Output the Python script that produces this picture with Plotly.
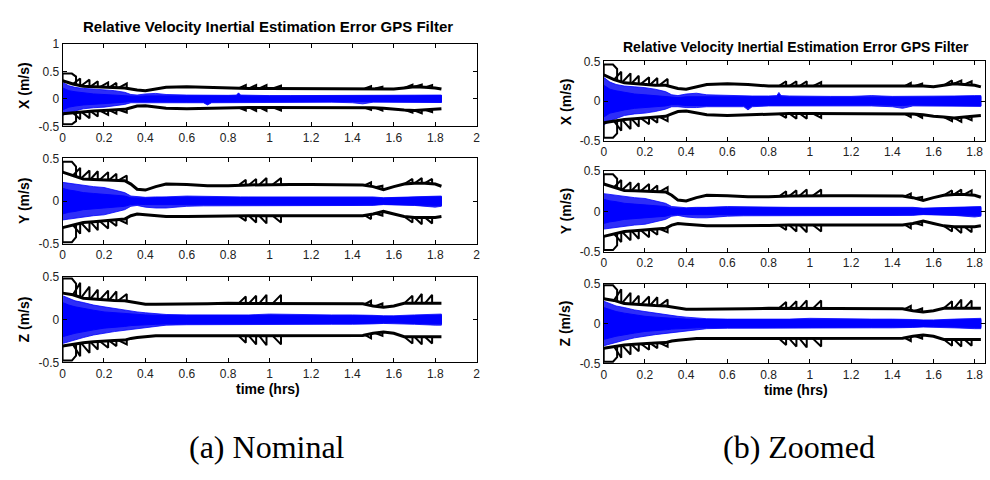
import numpy as np
import plotly.graph_objects as go

# ---------------- data ----------------
COMPONENTS = ["X", "Y", "Z"]
TITLE = "Relative Velocity Inertial Estimation Error GPS Filter"
XLABEL = "time (hrs)"
CAPTIONS = ["(a) Nominal", "(b) Zoomed"]

# 3-sigma (black) bounds
T_SIG = [0, 0.05, 0.1, 0.15, 0.2, 0.25, 0.3, 0.33, 0.36, 0.4, 0.45, 0.5, 0.6, 0.7, 0.8,
         0.9, 1.0, 1.1, 1.2, 1.3, 1.4, 1.45, 1.5, 1.55, 1.6, 1.65, 1.7, 1.75, 1.8, 1.83]
SIG_HI_X = [0.33, 0.27, 0.23, 0.22, 0.21, 0.2, 0.2, 0.18, 0.16, 0.15, 0.18, 0.21, 0.22, 0.21, 0.19,
            0.19, 0.19, 0.19, 0.19, 0.19, 0.19, 0.19, 0.19, 0.19, 0.18, 0.2, 0.22, 0.21, 0.2, 0.18]
SIG_LO_X = [-0.27, -0.25, -0.23, -0.22, -0.21, -0.2, -0.19, -0.16, -0.13, -0.125, -0.145, -0.17, -0.18, -0.17, -0.16,
            -0.155, -0.155, -0.155, -0.155, -0.155, -0.155, -0.16, -0.16, -0.17, -0.19, -0.2, -0.21, -0.2, -0.19, -0.18]
SIG_HI_Y = [0.34, 0.3, 0.26, 0.255, 0.25, 0.245, 0.24, 0.2, 0.14, 0.13, 0.17, 0.2, 0.195, 0.18, 0.18,
            0.19, 0.195, 0.195, 0.195, 0.195, 0.195, 0.19, 0.17, 0.135, 0.17, 0.2, 0.21, 0.21, 0.2, 0.175]
SIG_LO_Y = [-0.31, -0.28, -0.25, -0.24, -0.23, -0.22, -0.21, -0.17, -0.15, -0.16, -0.17, -0.18, -0.18, -0.18, -0.175,
            -0.17, -0.17, -0.17, -0.17, -0.17, -0.17, -0.17, -0.15, -0.12, -0.15, -0.18, -0.19, -0.19, -0.19, -0.18]
SIG_HI_Z = [0.31, 0.29, 0.25, 0.24, 0.23, 0.225, 0.22, 0.21, 0.2, 0.18, 0.18, 0.18, 0.18, 0.185, 0.19,
            0.19, 0.19, 0.19, 0.19, 0.19, 0.19, 0.185, 0.16, 0.145, 0.16, 0.19, 0.19, 0.19, 0.19, 0.19]
SIG_LO_Z = [-0.31, -0.29, -0.27, -0.26, -0.25, -0.245, -0.24, -0.22, -0.21, -0.2, -0.19, -0.19, -0.19, -0.19, -0.19,
            -0.19, -0.19, -0.19, -0.19, -0.19, -0.19, -0.185, -0.16, -0.145, -0.16, -0.2, -0.2, -0.2, -0.2, -0.2]

# initial "box" of the bounds (ends at BOX_T1) and saw-tooth spikes (rise from t0, drop at t1)
BOX_T1 = 0.065
BOX_HI = {"X": 0.46, "Y": 0.46, "Z": 0.48}
BOX_LO = {"X": -0.46, "Y": -0.48, "Z": -0.48}
SPK_T0 = [0.05, 0.09, 0.135, 0.18, 0.225, 0.27, 0.85, 0.9, 0.95, 1.015, 1.46, 1.51, 1.65, 1.7, 1.75]
SPK_T1 = [0.085, 0.13, 0.17, 0.22, 0.26, 0.31, 0.885, 0.935, 0.985, 1.055, 1.49, 1.545, 1.69, 1.735, 1.785]
SPK_HI_X = [0.37, 0.35, 0.32, 0.3, 0.29, 0.28, 0.25, 0.25, 0.25, 0.24, 0.23, 0.22, 0.26, 0.26, 0.25]
SPK_LO_X = [-0.37, -0.35, -0.32, -0.29, -0.27, -0.25, -0.21, -0.22, -0.22, -0.21, -0.2, -0.21, -0.25, -0.26, -0.24]
SPK_HI_Y = [0.39, 0.36, 0.35, 0.34, 0.32, 0.3, 0.25, 0.26, 0.27, 0.27, 0.22, 0.18, 0.26, 0.27, 0.26]
SPK_LO_Y = [-0.38, -0.36, -0.34, -0.32, -0.29, -0.26, -0.23, -0.25, -0.26, -0.25, -0.21, -0.17, -0.25, -0.27, -0.26]
SPK_HI_Z = [0.43, 0.385, 0.35, 0.34, 0.33, 0.3, 0.27, 0.28, 0.29, 0.29, 0.22, 0.19, 0.28, 0.3, 0.29]
SPK_LO_Z = [-0.43, -0.39, -0.35, -0.33, -0.31, -0.29, -0.27, -0.29, -0.3, -0.29, -0.22, -0.19, -0.28, -0.29, -0.28]

# Monte-Carlo error spread (blue): outer envelope and dense core
T_BAND = [0, 0.03, 0.06, 0.1, 0.15, 0.2, 0.25, 0.3, 0.33, 0.36, 0.4, 0.45, 0.5, 0.6, 0.68, 0.7, 0.72,
          0.8, 0.84, 0.85, 0.86, 0.9, 1.0, 1.1, 1.2, 1.3, 1.4, 1.45, 1.5, 1.55, 1.6, 1.7, 1.8, 1.83]
OUT_HI_X = [0.3, 0.24, 0.21, 0.19, 0.18, 0.17, 0.15, 0.12, 0.08, 0.07, 0.09, 0.1, 0.08, 0.07, 0.065, 0.065, 0.065,
            0.065, 0.07, 0.11, 0.07, 0.065, 0.06, 0.06, 0.06, 0.07, 0.06, 0.06, 0.06, 0.06, 0.06, 0.065, 0.07, 0.07]
OUT_LO_X = [-0.3, -0.25, -0.22, -0.18, -0.16, -0.15, -0.13, -0.1, -0.07, -0.07, -0.08, -0.08, -0.07, -0.07, -0.07, -0.11, -0.07,
            -0.06, -0.06, -0.06, -0.06, -0.06, -0.06, -0.06, -0.06, -0.06, -0.07, -0.09, -0.06, -0.06, -0.06, -0.06, -0.065, -0.065]
CORE_HI_X = [0.2, 0.15, 0.13, 0.11, 0.09, 0.08, 0.07, 0.06, 0.045, 0.045, 0.055, 0.055, 0.055, 0.055, 0.05, 0.05, 0.05,
             0.05, 0.055, 0.09, 0.055, 0.05, 0.05, 0.045, 0.045, 0.045, 0.045, 0.045, 0.045, 0.045, 0.05, 0.055, 0.06, 0.06]
CORE_LO_X = [-0.2, -0.15, -0.13, -0.11, -0.09, -0.08, -0.07, -0.06, -0.045, -0.045, -0.055, -0.055, -0.055, -0.055, -0.055, -0.09, -0.055,
             -0.05, -0.05, -0.05, -0.05, -0.05, -0.05, -0.045, -0.045, -0.045, -0.05, -0.055, -0.045, -0.045, -0.05, -0.055, -0.06, -0.06]
OUT_HI_Y = [0.22, 0.21, 0.2, 0.18, 0.17, 0.16, 0.13, 0.1, 0.06, 0.05, 0.045, 0.05, 0.05, 0.06, 0.055, 0.055, 0.055,
            0.05, 0.05, 0.05, 0.05, 0.05, 0.05, 0.05, 0.05, 0.05, 0.05, 0.05, 0.05, 0.04, 0.045, 0.05, 0.06, 0.06]
OUT_LO_Y = [-0.22, -0.21, -0.2, -0.19, -0.17, -0.16, -0.13, -0.1, -0.06, -0.05, -0.07, -0.08, -0.08, -0.06, -0.055, -0.055, -0.055,
            -0.05, -0.05, -0.05, -0.05, -0.05, -0.05, -0.05, -0.05, -0.05, -0.05, -0.05, -0.05, -0.04, -0.045, -0.05, -0.07, -0.06]
CORE_HI_Y = [0.15, 0.13, 0.12, 0.1, 0.09, 0.08, 0.07, 0.06, 0.04, 0.035, 0.035, 0.04, 0.045, 0.045, 0.045, 0.045, 0.045,
             0.045, 0.045, 0.045, 0.045, 0.045, 0.045, 0.045, 0.045, 0.045, 0.045, 0.045, 0.04, 0.035, 0.04, 0.045, 0.05, 0.05]
CORE_LO_Y = [-0.15, -0.13, -0.12, -0.1, -0.09, -0.08, -0.07, -0.06, -0.04, -0.035, -0.04, -0.045, -0.045, -0.045, -0.045, -0.045, -0.045,
             -0.045, -0.045, -0.045, -0.045, -0.045, -0.045, -0.045, -0.045, -0.045, -0.045, -0.045, -0.04, -0.035, -0.04, -0.045, -0.05, -0.05]
OUT_HI_Z = [0.28, 0.25, 0.22, 0.2, 0.17, 0.15, 0.13, 0.11, 0.1, 0.09, 0.08, 0.07, 0.06, 0.055, 0.055, 0.055, 0.055,
            0.055, 0.055, 0.055, 0.055, 0.055, 0.065, 0.06, 0.055, 0.055, 0.055, 0.055, 0.05, 0.045, 0.045, 0.055, 0.065, 0.065]
OUT_LO_Z = [-0.28, -0.26, -0.24, -0.21, -0.18, -0.16, -0.14, -0.12, -0.11, -0.1, -0.09, -0.08, -0.065, -0.06, -0.055, -0.055, -0.055,
            -0.055, -0.055, -0.055, -0.055, -0.055, -0.055, -0.055, -0.055, -0.055, -0.055, -0.055, -0.05, -0.045, -0.045, -0.055, -0.065, -0.065]
CORE_HI_Z = [0.2, 0.17, 0.15, 0.13, 0.11, 0.09, 0.08, 0.07, 0.065, 0.06, 0.055, 0.05, 0.05, 0.045, 0.045, 0.045, 0.045,
             0.045, 0.045, 0.045, 0.045, 0.045, 0.05, 0.045, 0.045, 0.045, 0.045, 0.045, 0.04, 0.035, 0.035, 0.045, 0.05, 0.05]
CORE_LO_Z = [-0.2, -0.18, -0.16, -0.14, -0.12, -0.1, -0.09, -0.08, -0.07, -0.065, -0.06, -0.055, -0.05, -0.045, -0.045, -0.045, -0.045,
             -0.045, -0.045, -0.045, -0.045, -0.045, -0.045, -0.045, -0.045, -0.045, -0.045, -0.045, -0.04, -0.035, -0.035, -0.045, -0.05, -0.05]

XTICKS_A = [0, 0.2, 0.4, 0.6, 0.8, 1, 1.2, 1.4, 1.6, 1.8, 2]
XTICKS_B = [0, 0.2, 0.4, 0.6, 0.8, 1, 1.2, 1.4, 1.6, 1.8]
YTICKS_A_X = [-0.5, 0, 0.5, 1]
YTICKS = [-0.5, 0, 0.5]

DATA = {
    "X": dict(hi=SIG_HI_X, lo=SIG_LO_X, shi=SPK_HI_X, slo=SPK_LO_X,
              ohi=OUT_HI_X, olo=OUT_LO_X, chi=CORE_HI_X, clo=CORE_LO_X),
    "Y": dict(hi=SIG_HI_Y, lo=SIG_LO_Y, shi=SPK_HI_Y, slo=SPK_LO_Y,
              ohi=OUT_HI_Y, olo=OUT_LO_Y, chi=CORE_HI_Y, clo=CORE_LO_Y),
    "Z": dict(hi=SIG_HI_Z, lo=SIG_LO_Z, shi=SPK_HI_Z, slo=SPK_LO_Z,
              ohi=OUT_HI_Z, olo=OUT_LO_Z, chi=CORE_HI_Z, clo=CORE_LO_Z),
}

# ---------------- layout geometry (pixels) ----------------
W, H = 990, 480
SANS = "Liberation Sans, Arial, sans-serif"
PANELS = [
    dict(x0=60, x1=477, rows=[(38, 123), (156, 244), (278, 366)], xr=[0, 2], xt=XTICKS_A,
         title_xy=(267, 20), title_size=15, ylab_x=21, xlab_xy=(267, 393), cap_xy=(266, 453)),
    dict(x0=605, x1=989, rows=[(56, 138), (169, 252), (285, 367)], xr=[0, 1.85], xt=XTICKS_B,
         title_xy=(799, 41), title_size=14, ylab_x=567, xlab_xy=(799, 394), cap_xy=(802, 453)),
]

BLUE = "rgb(0,0,255)"
fig = go.Figure()
layout = dict(width=W, height=H, margin=dict(l=0, r=0, t=0, b=0), paper_bgcolor="white",
              plot_bgcolor="white", showlegend=False, annotations=[])


def px(x):
    return x / W


def py(y):
    return 1 - y / H


def spike_path(t_sig, base, box_pk, t1s, t0s, pks):
    xs = [0, 0, 0.045, BOX_T1, BOX_T1, None]
    ys = [base[0], box_pk, box_pk, box_pk * 0.88, float(np.interp(BOX_T1, t_sig, base)), None]
    for a, b, p in zip(t0s, t1s, pks):
        xs += [a, b, b, None]
        ys += [float(np.interp(a, t_sig, base)), p, float(np.interp(b, t_sig, base)), None]
    return xs, ys


n = 0
for pi, P in enumerate(PANELS):
    for ri, comp in enumerate(COMPONENTS):
        n += 1
        xa = "x" if n == 1 else f"x{n}"
        ya = "y" if n == 1 else f"y{n}"
        d = DATA[comp]
        # blue Monte-Carlo spread
        fig.add_trace(go.Scatter(x=T_BAND + T_BAND[::-1], y=d["ohi"] + d["olo"][::-1], fill="toself",
                                 fillcolor="rgb(45,45,248)", line=dict(color=BLUE, width=0.8),
                                 mode="lines", xaxis=xa, yaxis=ya, hoverinfo="skip"))
        fig.add_trace(go.Scatter(x=T_BAND + T_BAND[::-1], y=d["chi"] + d["clo"][::-1], fill="toself",
                                 fillcolor=BLUE, line=dict(color=BLUE, width=1),
                                 mode="lines", xaxis=xa, yaxis=ya, hoverinfo="skip"))
        # black sigma bounds
        for base, boxpk, pks in ((d["hi"], BOX_HI[comp], d["shi"]), (d["lo"], BOX_LO[comp], d["slo"])):
            sx, sy = spike_path(T_SIG, base, boxpk, SPK_T1, SPK_T0, pks)
            fig.add_trace(go.Scatter(x=sx, y=sy, mode="lines", line=dict(color="black", width=2),
                                     xaxis=xa, yaxis=ya, hoverinfo="skip", connectgaps=False))
            fig.add_trace(go.Scatter(x=T_SIG, y=base, mode="lines", line=dict(color="black", width=3),
                                     xaxis=xa, yaxis=ya, hoverinfo="skip"))
        top, bot = P["rows"][ri]
        yt = YTICKS_A_X if (pi == 0 and comp == "X") else YTICKS
        yr = [-0.5, 1] if (pi == 0 and comp == "X") else [-0.5, 0.5]
        axcommon = dict(showline=True, linecolor="black", linewidth=1, mirror="allticks", ticks="inside",
                        ticklen=4, tickcolor="black", showgrid=False, zeroline=False,
                        tickfont=dict(family=SANS, size=12, color="#222"))
        layout["xaxis" if n == 1 else f"xaxis{n}"] = dict(
            domain=[px(P["x0"]), px(P["x1"])], range=P["xr"], anchor=ya,
            tickvals=P["xt"], ticktext=[f"{v:g}" for v in P["xt"]], **axcommon)
        layout["yaxis" if n == 1 else f"yaxis{n}"] = dict(
            domain=[py(bot), py(top)], range=yr, anchor=xa,
            tickvals=yt, ticktext=[f"{v:g}" for v in yt], **axcommon)
        layout["annotations"].append(dict(
            text=f"<b>{comp} (m/s)</b>", x=px(P["ylab_x"]), y=py((top + bot) / 2), xref="paper", yref="paper",
            showarrow=False, textangle=-90, xanchor="center", yanchor="middle",
            font=dict(family=SANS, size=14, color="black")))
    layout["annotations"].append(dict(
        text=f"<b>{TITLE}</b>", x=px(P["title_xy"][0]), y=py(P["title_xy"][1]), xref="paper", yref="paper",
        showarrow=False, xanchor="center", yanchor="middle",
        font=dict(family=SANS, size=P["title_size"], color="black")))
    layout["annotations"].append(dict(
        text=f"<b>{XLABEL}</b>", x=px(P["xlab_xy"][0]), y=py(P["xlab_xy"][1]), xref="paper", yref="paper",
        showarrow=False, xanchor="center", yanchor="middle",
        font=dict(family=SANS, size=14, color="black")))
    layout["annotations"].append(dict(
        text=CAPTIONS[pi], x=px(P["cap_xy"][0]), y=py(P["cap_xy"][1]), xref="paper", yref="paper",
        showarrow=False, xanchor="center", yanchor="middle",
        font=dict(family="Liberation Serif, serif", size=32, color="black")))

fig.update_layout(**layout)
fig.write_html("out.html")
